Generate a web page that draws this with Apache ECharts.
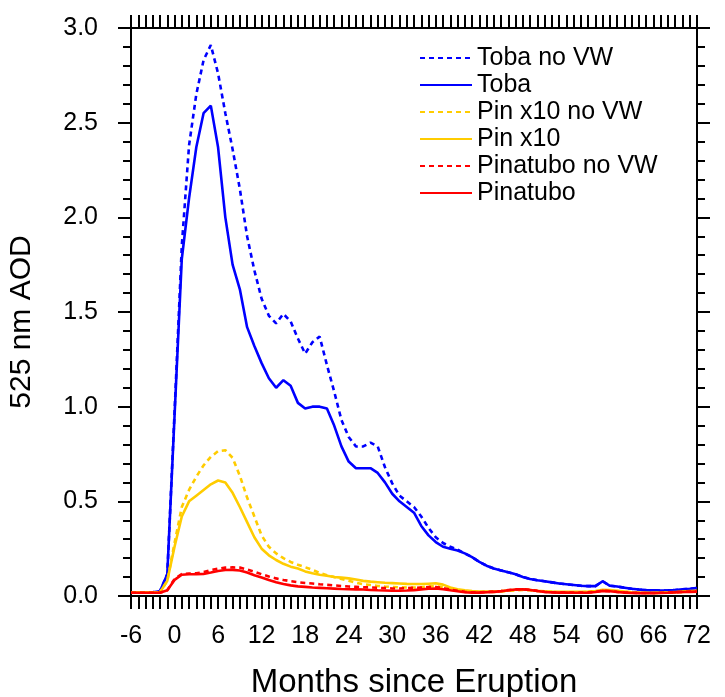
<!DOCTYPE html>
<html>
<head>
<meta charset="utf-8">
<script src="https://cdn.jsdelivr.net/npm/echarts@6/dist/echarts.min.js"></script>
<style>html,body{margin:0;padding:0;background:#fff}#c{width:725px;height:697px}</style>
</head>
<body>
<div id="c"></div>
<script>
// months since eruption (-6 .. 72)
const months = Array.from({length: 79}, (_, i) => i - 6);
const xTicks = [-6, 0, 6, 12, 18, 24, 30, 36, 42, 48, 54, 60, 66, 72];
const yTicks = [0.0, 0.5, 1.0, 1.5, 2.0, 2.5, 3.0];

const tobaNoVW = [0.02,0.02,0.02,0.02,0.025,0.115,
  0.97,1.85,2.38,2.65,2.83,2.91,2.76,2.55,2.36,2.15,1.90,1.72,1.57,1.48,1.44,1.49,1.45,1.36,1.28,1.34,1.37,1.22,1.08,0.93,0.84,
  0.79,0.79,0.81,0.79,0.68,0.595,0.53,0.50,0.47,0.42,0.36,0.31,0.28,0.26,0.245,0.225,
  0.205,0.18,0.16,0.145,0.135,0.125,0.115,0.10,0.09,0.083,0.078,0.072,0.066,0.062,0.058,0.054,0.052,0.052,0.078,0.054,0.05,0.044,0.038,0.034,0.031,0.03,0.029,0.03,0.032,0.035,0.038,0.042];
const toba = [0.02,0.02,0.02,0.02,0.025,0.115,
  0.95,1.78,2.10,2.37,2.55,2.59,2.37,2.00,1.75,1.62,1.42,1.32,1.23,1.15,1.10,1.14,1.11,1.02,0.99,1.00,1.00,0.99,0.90,0.79,0.71,
  0.675,0.675,0.675,0.65,0.60,0.54,0.50,0.47,0.44,0.37,0.32,0.285,0.26,0.25,0.24,0.225,
  0.205,0.18,0.16,0.145,0.135,0.125,0.115,0.10,0.09,0.083,0.078,0.072,0.066,0.062,0.058,0.054,0.052,0.052,0.078,0.054,0.05,0.044,0.038,0.034,0.031,0.03,0.029,0.03,0.032,0.035,0.038,0.042];
const pinX10NoVW = [0.02,0.02,0.02,0.02,0.02,0.08,
  0.28,0.47,0.56,0.63,0.69,0.735,0.765,0.77,0.73,0.635,0.52,0.42,0.32,0.26,0.225,0.20,0.18,0.165,0.152,0.138,0.122,0.11,0.10,0.09,0.08,
  0.07,0.062,0.058,0.053,0.05,0.048,0.046,0.045,0.045,0.046,0.05,0.052,0.046,0.036,0.029,0.025,
  0.022,0.021,0.021,0.022,0.024,0.027,0.03,0.032,0.03,0.026,0.023,0.021,0.02,0.02,0.02,0.02,0.021,0.024,0.03,0.03,0.026,0.022,0.019,0.017,0.016,0.016,0.017,0.018,0.02,0.022,0.024,0.026];
const pinX10 = [0.02,0.02,0.02,0.02,0.02,0.08,
  0.26,0.42,0.50,0.53,0.56,0.59,0.61,0.60,0.545,0.47,0.39,0.31,0.25,0.215,0.19,0.17,0.155,0.145,0.13,0.12,0.112,0.107,0.10,0.097,0.093,
  0.087,0.08,0.076,0.073,0.07,0.068,0.066,0.064,0.063,0.063,0.065,0.067,0.06,0.045,0.036,0.03,
  0.026,0.024,0.023,0.024,0.026,0.029,0.033,0.035,0.032,0.028,0.025,0.023,0.022,0.022,0.022,0.022,0.023,0.026,0.033,0.032,0.028,0.024,0.02,0.018,0.017,0.017,0.018,0.019,0.021,0.023,0.026,0.028];
const pinatuboNoVW = [0.017,0.017,0.017,0.017,0.017,0.03,
  0.09,0.116,0.118,0.12,0.126,0.137,0.144,0.15,0.151,0.15,0.14,0.128,0.115,0.103,0.093,0.085,0.078,0.073,0.069,0.066,0.062,0.059,0.056,0.053,0.05,
  0.048,0.046,0.045,0.043,0.042,0.04,0.04,0.041,0.043,0.045,0.047,0.047,0.042,0.034,0.028,0.022,
  0.019,0.019,0.021,0.023,0.026,0.031,0.035,0.036,0.033,0.027,0.022,0.02,0.019,0.019,0.018,0.018,0.019,0.022,0.028,0.026,0.022,0.019,0.017,0.016,0.016,0.016,0.017,0.018,0.02,0.022,0.023,0.024];
const pinatubo = [0.017,0.017,0.017,0.017,0.017,0.03,
  0.085,0.112,0.115,0.115,0.117,0.124,0.132,0.137,0.138,0.135,0.124,0.11,0.098,0.085,0.073,0.063,0.056,0.051,0.048,0.045,0.043,0.041,0.039,0.037,0.036,
  0.035,0.034,0.032,0.03,0.029,0.028,0.028,0.029,0.031,0.035,0.038,0.04,0.036,0.03,0.025,0.02,
  0.018,0.018,0.02,0.022,0.025,0.03,0.034,0.035,0.032,0.026,0.021,0.019,0.018,0.018,0.017,0.017,0.018,0.021,0.027,0.025,0.021,0.018,0.016,0.015,0.015,0.015,0.016,0.017,0.019,0.021,0.022,0.023];

const seriesDefs = [
  {name: 'Toba no VW', data: tobaNoVW, color: '#0000ff', dashed: true},
  {name: 'Toba', data: toba, color: '#0000ff', dashed: false},
  {name: 'Pin x10 no VW', data: pinX10NoVW, color: '#ffcc00', dashed: true},
  {name: 'Pin x10', data: pinX10, color: '#ffcc00', dashed: false},
  {name: 'Pinatubo no VW', data: pinatuboNoVW, color: '#ff0000', dashed: true},
  {name: 'Pinatubo', data: pinatubo, color: '#ff0000', dashed: false}
];

const FONT = 'Liberation Sans, Arial, Helvetica, sans-serif';
const chart = echarts.init(document.getElementById('c'), null, {renderer: 'canvas'});

const axisLine = {show: true, onZero: false, lineStyle: {color: '#000', width: 2}};
const tick = {show: true, inside: false, length: 13, lineStyle: {color: '#000', width: 2}};

chart.setOption({
  animation: false,
  backgroundColor: '#fff',
  grid: {left: 131, right: 28, top: 28, bottom: 101, containLabel: false, outerBoundsMode: 'none'},
  legend: {
    orient: 'vertical', left: 414, top: 40,
    itemWidth: 52, itemHeight: 26, itemGap: 1,
    itemStyle: {opacity: 0},
    textStyle: {fontFamily: FONT, fontSize: 25, color: '#000', lineHeight: 26},
    data: seriesDefs.map(s => s.name)
  },
  xAxis: [
    {
      type: 'value', min: -6, max: 72, interval: 6, position: 'bottom',
      axisLine: axisLine, splitLine: {show: false},
      name: 'Months since Eruption', nameLocation: 'middle', nameGap: 70,
      nameTextStyle: {fontFamily: FONT, fontSize: 33, color: '#000'},
      axisTick: tick,
      minorTick: {show: true, splitNumber: 6, length: 13, lineStyle: {color: '#000', width: 2}},
      axisLabel: {fontFamily: FONT, fontSize: 25, color: '#000', margin: 28,
        customValues: xTicks, formatter: v => String(v)}
    },
    {
      type: 'value', min: -6, max: 72, interval: 6, position: 'top',
      axisLine: axisLine, splitLine: {show: false},
      axisTick: tick,
      minorTick: {show: true, splitNumber: 6, length: 13, lineStyle: {color: '#000', width: 2}},
      axisLabel: {show: false}
    }
  ],
  yAxis: [
    {
      type: 'value', min: 0, max: 3, interval: 0.5, position: 'left',
      axisLine: axisLine, splitLine: {show: false},
      name: '525 nm AOD', nameLocation: 'middle', nameGap: 94, nameRotate: 90,
      nameTextStyle: {fontFamily: FONT, fontSize: 30, color: '#000', padding: [0, 20, 0, 0]},
      axisTick: tick,
      minorTick: {show: true, splitNumber: 5, length: 8, lineStyle: {color: '#000', width: 2}},
      axisLabel: {fontFamily: FONT, fontSize: 25, color: '#000', margin: 33,
        customValues: yTicks, formatter: v => v.toFixed(1)}
    },
    {
      type: 'value', min: 0, max: 3, interval: 0.5, position: 'right',
      axisLine: axisLine, splitLine: {show: false},
      axisTick: tick,
      minorTick: {show: true, splitNumber: 5, length: 8, lineStyle: {color: '#000', width: 2}},
      axisLabel: {show: false}
    }
  ],
  series: seriesDefs.map(s => ({
    name: s.name,
    type: 'line',
    xAxisIndex: 0, yAxisIndex: 0,
    data: months.map((m, i) => [m, s.data[i]]),
    symbol: 'none',
    smooth: false,
    color: s.color,
    lineStyle: {color: s.color, width: 2.6, type: s.dashed ? [5, 4] : 'solid'},
    emphasis: {disabled: true}
  }))
});
</script>
</body>
</html>
